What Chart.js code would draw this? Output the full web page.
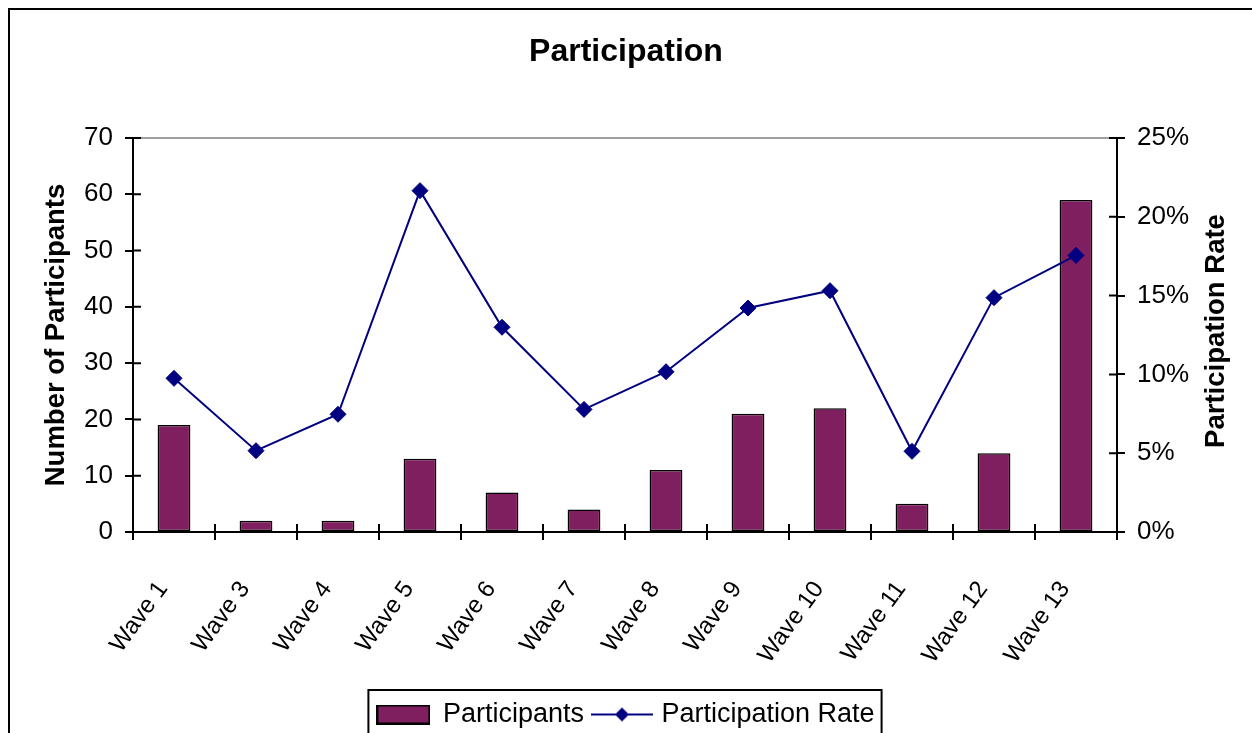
<!DOCTYPE html>
<html>
<head>
<meta charset="utf-8">
<title>Participation</title>
<script src="https://cdn.jsdelivr.net/npm/chart.js@4.4.1/dist/chart.umd.min.js"></script>
<style>
  html, body { margin: 0; padding: 0; background: #fff; overflow: hidden; }
  canvas { display: block; }
</style>
</head>
<body>
<canvas id="participationChart" width="1252" height="733"></canvas>
<script>
const waves = ['Wave 1', 'Wave 3', 'Wave 4', 'Wave 5', 'Wave 6', 'Wave 7', 'Wave 8', 'Wave 9', 'Wave 10', 'Wave 11', 'Wave 12', 'Wave 13'];
const participants = [19, 2, 2, 13, 7, 4, 11, 21, 22, 5, 14, 59];
const participationRate = [9.75, 5.16, 7.47, 21.66, 12.99, 7.78, 10.17, 14.21, 15.31, 5.12, 14.87, 17.55]; // percent

const countTicks = { min: 0, max: 70, step: 10 };
const rateTicks = { min: 0, max: 25, step: 5 };

const barColor = '#7f1f5f';
const lineColor = '#000080';
const fontFamily = '"Liberation Sans", Arial, sans-serif';

Chart.defaults.font.family = fontFamily;
Chart.defaults.color = '#000';

// little swatches for the legend
const makeBarSwatch = () => {
    const c = document.createElement('canvas');
    c.width = 54; c.height = 20;
    const g = c.getContext('2d');
    g.fillStyle = barColor;
    g.fillRect(1, 1, 52, 18);
    g.strokeStyle = '#000';
    g.lineWidth = 2;
    g.strokeRect(1, 1, 52, 18);
    return c;
};

const makeLineSwatch = () => {
    const c = document.createElement('canvas');
    c.width = 62; c.height = 16;
    const g = c.getContext('2d');
    g.strokeStyle = lineColor;
    g.lineWidth = 2;
    g.beginPath();
    g.moveTo(0, 8); g.lineTo(62, 8);
    g.stroke();
    g.fillStyle = lineColor;
    g.beginPath();
    g.moveTo(31, 1); g.lineTo(38, 8); g.lineTo(31, 15); g.lineTo(24, 8);
    g.closePath();
    g.fill();
    return c;
};

const swatches = [makeBarSwatch(), makeLineSwatch()];

// axis extras: crossing tick marks, top rule, frame, right title, legend box
const axisExtras = {
    id: 'axisExtras',
    beforeDatasetsDraw(chart) {
        const { ctx, chartArea } = chart;
        ctx.save();
        ctx.strokeStyle = '#808080';
        ctx.lineWidth = 1.5;
        ctx.beginPath();
        ctx.moveTo(chartArea.left, chartArea.top);
        ctx.lineTo(chartArea.right, chartArea.top);
        ctx.stroke();
        ctx.restore();
    },
    afterDatasetsDraw(chart) {
        const { ctx, chartArea, scales } = chart;
        ctx.save();
        ctx.strokeStyle = '#000';
        ctx.lineWidth = 2;
        ctx.beginPath();
        scales.y.ticks.forEach(t => {
            const y = scales.y.getPixelForValue(t.value);
            ctx.moveTo(chartArea.left, y);
            ctx.lineTo(chartArea.left + 8, y);
        });
        scales.y1.ticks.forEach(t => {
            const y = scales.y1.getPixelForValue(t.value);
            ctx.moveTo(chartArea.right - 8, y);
            ctx.lineTo(chartArea.right, y);
        });
        for (let i = 0; i <= waves.length; i++) {
            const x = scales.x.getPixelForValue(i - 0.5);
            ctx.moveTo(x, chartArea.bottom - 8);
            ctx.lineTo(x, chartArea.bottom);
        }
        ctx.stroke();
        ctx.restore();
    },
    afterDraw(chart) {
        const { ctx, legend } = chart;
        ctx.save();

        // outer frame
        ctx.strokeStyle = '#000';
        ctx.lineWidth = 2;
        ctx.beginPath();
        ctx.moveTo(9, 740);
        ctx.lineTo(9, 9);
        ctx.lineTo(1260, 9);
        ctx.stroke();

        // right axis title, reads bottom to top
        ctx.fillStyle = '#000';
        ctx.font = 'bold 27.5px ' + fontFamily;
        ctx.textAlign = 'center';
        ctx.textBaseline = 'middle';
        ctx.translate(1216, 331);
        ctx.rotate(-Math.PI / 2);
        ctx.fillText('Participation Rate', 0, 0);
        ctx.restore();

        // box round the legend
        const boxes = legend.legendHitBoxes;
        if (boxes && boxes.length) {
            const first = boxes[0];
            const last = boxes[boxes.length - 1];
            const x0 = first.left - 9;
            const x1 = last.left + last.width + 7;
            ctx.save();
            ctx.strokeStyle = '#000';
            ctx.lineWidth = 2;
            ctx.strokeRect(x0, legend.top + 1, x1 - x0, 80);
            ctx.restore();
        }
    }
};

const ctx = document.getElementById('participationChart').getContext('2d');
new Chart(ctx, {
    type: 'bar',
    data: {
        labels: waves,
        datasets: [
            {
                type: 'bar',
                label: 'Participants',
                data: participants,
                yAxisID: 'y',
                backgroundColor: barColor,
                borderColor: '#000',
                borderWidth: 1.5,
                borderSkipped: false,
                barPercentage: 0.4,
                categoryPercentage: 1,
                order: 2
            },
            {
                type: 'line',
                label: 'Participation Rate',
                data: participationRate,
                yAxisID: 'y1',
                borderColor: lineColor,
                borderWidth: 2,
                backgroundColor: lineColor,
                pointStyle: 'rectRot',
                pointRadius: 8,
                pointBackgroundColor: lineColor,
                pointBorderColor: lineColor,
                pointBorderWidth: 1,
                tension: 0,
                fill: false,
                order: 1
            }
        ]
    },
    options: {
        responsive: false,
        animation: false,
        devicePixelRatio: 1,
        layout: { padding: { left: 0, right: 0, top: 0, bottom: -5 } },
        plugins: {
            title: {
                display: true,
                text: 'Participation',
                color: '#000',
                font: { size: 32, weight: 'bold' },
                padding: { top: 33, bottom: 66.6 }
            },
            legend: {
                position: 'bottom',
                labels: {
                    usePointStyle: true,
                    pointStyleWidth: 52,
                    padding: 12,
                    color: '#000',
                    font: { size: 27 },
                    generateLabels: (chart) => chart.data.datasets.map((ds, i) => ({
                        text: ds.label,
                        datasetIndex: i,
                        pointStyle: swatches[i],
                        fillStyle: 'transparent',
                        strokeStyle: 'transparent',
                        lineWidth: 0,
                        hidden: false
                    }))
                }
            },
            tooltip: { enabled: false }
        },
        scales: {
            x: {
                grid: {
                    display: true,
                    drawOnChartArea: false,
                    offset: true,
                    tickLength: 8,
                    color: '#000',
                    lineWidth: 2
                },
                border: { display: true, color: '#000', width: 2 },
                ticks: {
                    autoSkip: false,
                    maxRotation: 54,
                    minRotation: 54,
                    padding: 36,
                    labelOffset: -11,
                    font: { size: 24 }
                },
                afterFit: (scale) => { scale.height = 157; }
            },
            y: {
                position: 'left',
                min: countTicks.min,
                max: countTicks.max,
                ticks: {
                    stepSize: countTicks.step,
                    padding: 12,
                    font: { size: 26 }
                },
                grid: {
                    display: true,
                    drawOnChartArea: false,
                    tickLength: 8,
                    color: '#000',
                    lineWidth: 2
                },
                border: { display: true, color: '#000', width: 2 },
                title: {
                    display: true,
                    text: 'Number of Participants',
                    font: { size: 27.5, weight: 'bold' },
                    padding: { top: 40, bottom: 0 }
                },
                afterFit: (scale) => { scale.width = 133; }
            },
            y1: {
                position: 'right',
                min: rateTicks.min,
                max: rateTicks.max,
                ticks: {
                    stepSize: rateTicks.step,
                    padding: 12,
                    font: { size: 26 },
                    callback: (v) => v + '%'
                },
                grid: {
                    display: true,
                    drawOnChartArea: false,
                    tickLength: 8,
                    color: '#000',
                    lineWidth: 2
                },
                border: { display: true, color: '#000', width: 2 },
                afterFit: (scale) => { scale.width = 135; }
            }
        }
    },
    plugins: [axisExtras]
});
</script>
</body>
</html>
